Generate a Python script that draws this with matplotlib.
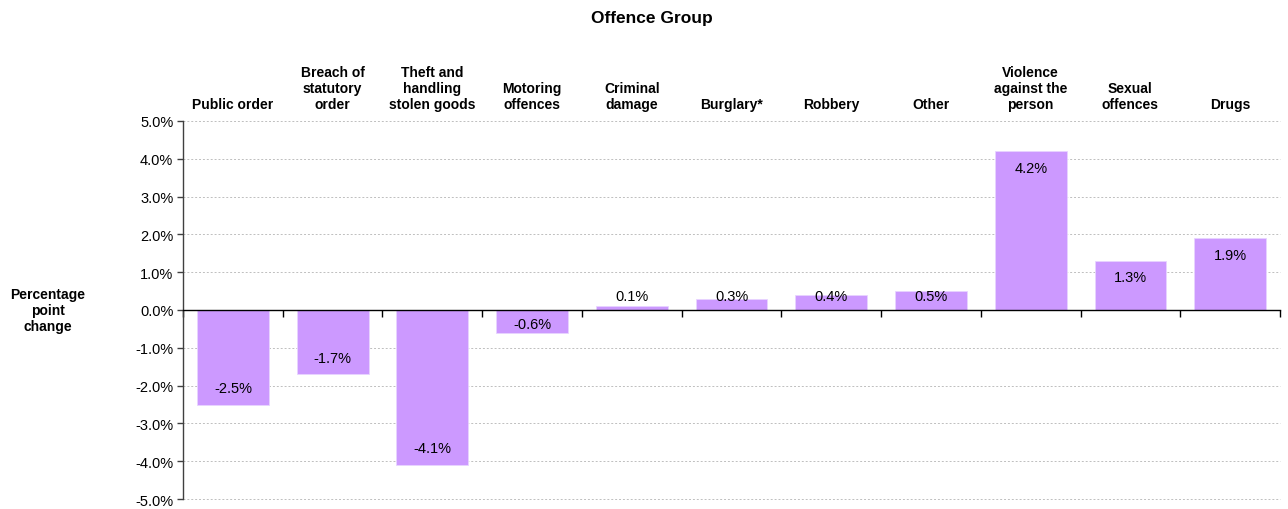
import matplotlib
matplotlib.use("Agg")
import matplotlib.pyplot as plt
import matplotlib.transforms as mtransforms
from matplotlib.ticker import FuncFormatter, FixedLocator
import numpy as np

plt.rcParams['font.family'] = ['Liberation Sans', 'DejaVu Sans']

categories = ["Public order", "Breach of\nstatutory\norder", "Theft and\nhandling\nstolen goods",
              "Motoring\noffences", "Criminal\ndamage", "Burglary*", "Robbery", "Other",
              "Violence\nagainst the\nperson", "Sexual\noffences", "Drugs"]
changes = [-2.5, -1.7, -4.1, -0.6, 0.1, 0.3, 0.4, 0.5, 4.2, 1.3, 1.9]
value_labels = ["-2.5%", "-1.7%", "-4.1%", "-0.6%", "0.1%", "0.3%", "0.4%", "0.5%", "4.2%", "1.3%", "1.9%"]
y_ticks = [-5, -4, -3, -2, -1, 0, 1, 2, 3, 4, 5]

fig = plt.figure(figsize=(12.88, 5.10), dpi=100)
ax = fig.add_axes([0.1421, 0.0196, 0.8517, 0.7412])

x = np.arange(len(categories))
ax.bar(x, changes, width=0.72, color="#CC99FF", edgecolor="#E8D4FF", linewidth=0.6, zorder=2)

ax.set_xlim(-0.5, len(categories) - 0.5)
ax.set_ylim(-5, 5)

# dashed horizontal gridlines at every whole percent
ax.yaxis.set_major_locator(FixedLocator(y_ticks))
ax.yaxis.set_major_formatter(FuncFormatter(lambda v, p: f"{v:.1f}%"))
for yv in y_ticks:
    if yv != 0:
        ax.axhline(yv, color="#BFBFBF", linestyle=(0, (2, 2)), linewidth=0.7, zorder=0, clip_on=False)

# spines
ax.spines['top'].set_visible(False)
ax.spines['right'].set_visible(False)
ax.spines['left'].set_color("#404040")
ax.spines['left'].set_linewidth(1.0)
ax.spines['bottom'].set_position(('data', 0))
ax.spines['bottom'].set_color("black")
ax.spines['bottom'].set_linewidth(1.0)
ax.spines['bottom'].set_zorder(3)

# category boundary ticks on the zero line
ax.xaxis.set_major_locator(FixedLocator(np.arange(len(categories) + 1) - 0.5))
ax.tick_params(axis='x', direction='out', length=5, width=1, color="black", labelbottom=False)
ax.tick_params(axis='y', direction='out', length=4, width=1, color="#404040",
               labelsize=10.5, labelcolor="black", pad=3)

# category headings above the plot
trans = mtransforms.blended_transform_factory(ax.transData, ax.transAxes)
for xi, name in zip(x, categories):
    ax.text(xi, 1.026, name, transform=trans, ha='center', va='bottom',
            fontsize=10, fontweight='bold', linespacing=1.2)

# value labels just inside the bar end, kept clear of the zero line
px_per_unit = ax.get_window_extent().height / 10.0
inset = 16.5 / px_per_unit
min_off = 14.0 / px_per_unit
for xi, v, lab in zip(x, changes, value_labels):
    s = 1 if v >= 0 else -1
    pos = v - s * inset
    if abs(pos) < min_off or np.sign(pos) != s:
        pos = s * min_off
    ax.text(xi, pos, lab, ha='center', va='center', fontsize=10.5, color="black", zorder=4)

fig.text(0.506, 0.963, "Offence Group", ha='center', va='center', fontsize=12.5, fontweight='bold')
fig.text(0.037, 0.39, "Percentage\npoint\nchange", ha='center', va='center', fontsize=10,
         fontweight='bold', linespacing=1.2)

fig.savefig("out.png", dpi=100)
